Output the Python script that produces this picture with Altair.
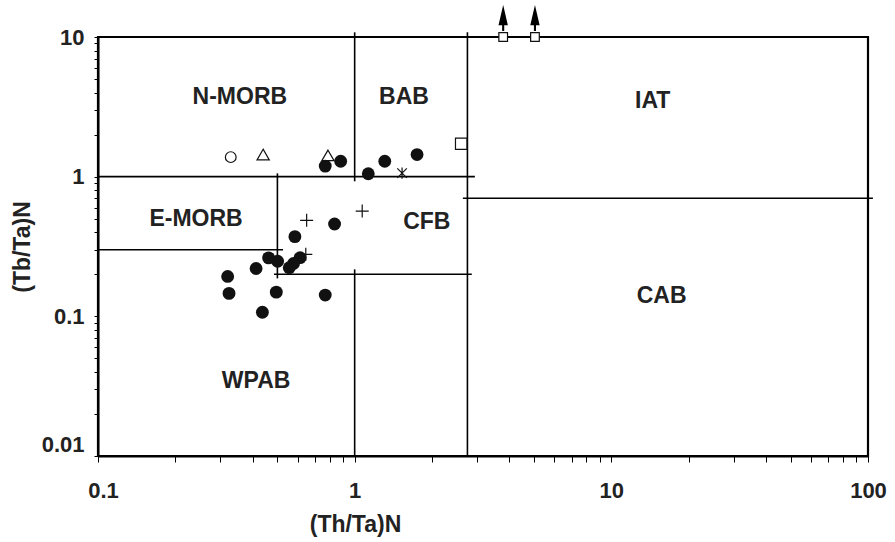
import altair as alt
import pandas as pd

# --- field boundary segments (Th/Ta)N vs (Tb/Ta)N ---
seg_x1 = [0.1, 1.0, 2.75, 2.64, 0.5, 0.1, 0.485, 1.0]
seg_x2 = [2.94, 1.0, 2.75, 104.5, 0.5, 0.526, 2.86, 1.0]
seg_y1 = [1.0, 10.8, 10.8, 0.70, 1.056, 0.30, 0.20, 0.217]
seg_y2 = [1.0, 0.926, 0.01, 0.70, 0.187, 0.30, 0.20, 0.01]

# --- samples ---
filled_x = [0.768, 0.882, 1.13, 1.31, 1.75, 0.835, 0.585, 0.462, 0.501, 0.613,
            0.578, 0.556, 0.413, 0.32, 0.324, 0.495, 0.768, 0.437]
filled_y = [1.19, 1.29, 1.05, 1.29, 1.44, 0.458, 0.372, 0.262, 0.248, 0.263,
            0.239, 0.223, 0.220, 0.193, 0.146, 0.149, 0.142, 0.107]
circle_x = [0.329]
circle_y = [1.38]
tri_x = [0.44, 0.787]
tri_y = [1.44, 1.42]
plus_x = [0.65, 1.07, 0.645]
plus_y = [0.487, 0.567, 0.278]
star_x = [1.53]
star_y = [1.06]
square_x = [2.6]
square_y = [1.72]
# values beyond the top of the diagram, plotted on the upper limit
offscale_x = [3.79, 5.04]
offscale_y = [10.0, 10.0]

# --- field names ---
field_names = ["N-MORB", "BAB", "IAT", "E-MORB", "CFB", "CAB", "WPAB"]
field_x = [0.357, 1.556, 14.5, 0.241, 1.91, 15.7, 0.413]
field_y = [3.71, 3.71, 3.46, 0.495, 0.473, 0.139, 0.0343]

# --- axes ---
x_decades = [0.1, 1, 10, 100]
x_labels = ["0.1", "1", "10", "100"]
y_decades = [0.01, 0.1, 1, 10]
y_labels = ["0.01", "0.1", "1", "10"]

FONT = "Liberation Sans"

x_ticks = list(x_decades) + [k * d for d in x_decades[:-1] for k in range(2, 10)]
y_ticks = list(y_decades) + [k * d for d in y_decades[:-1] for k in range(2, 10)]


def label_expr(values, labels):
    expr = "''"
    for v, lab in reversed(list(zip(values, labels))):
        expr = f"datum.value == {v} ? '{lab}' : ({expr})"
    return expr


xscale = alt.Scale(type="log", domain=[0.1, 100], nice=False, zero=False)
yscale = alt.Scale(type="log", domain=[0.01, 10], nice=False, zero=False)

xaxis = alt.Axis(
    values=x_ticks, labelExpr=label_expr(x_decades, x_labels),
    title="(Th/Ta)N", grid=False, domainColor="black", domainWidth=2,
    tickColor="black", tickSize=6, tickWidth=1, labelFont=FONT,
    labelFontSize=22, labelFontWeight="bold", labelColor="#222",
    labelPadding=18, labelOverlap=False, labelFlush=False,
    labelOffset={"condition": {"test": "datum.value == 0.1", "value": 5}, "value": 0},
    titleFont=FONT, titleFontSize=23, titleFontWeight="bold", titleColor="#222",
    titleX=257, titleY=68, titleBaseline="middle", titleAlign="center",
)
yaxis = alt.Axis(
    values=y_ticks, labelExpr=label_expr(y_decades, y_labels),
    title="(Tb/Ta)N", grid=False, domainColor="black", domainWidth=2,
    tickColor="black", tickSize=4, tickWidth=1, labelFont=FONT,
    labelFontSize=22, labelFontWeight="bold", labelColor="#222",
    labelPadding=10, labelOverlap=False, labelFlush=False,
    labelOffset={"condition": {"test": "datum.value == 0.01", "value": -12}, "value": 0},
    titleFont=FONT, titleFontSize=23, titleFontWeight="bold", titleColor="#222",
    titleX=-76, titleY=209.5, titleAngle=-90, titleBaseline="middle",
    titleAlign="center",
)

segs = pd.DataFrame({"x": seg_x1, "x2": seg_x2, "y": seg_y1, "y2": seg_y2})
rules = alt.Chart(segs).mark_rule(color="black", strokeWidth=1.6).encode(
    x=alt.X("x:Q", scale=xscale, axis=xaxis),
    x2="x2:Q",
    y=alt.Y("y:Q", scale=yscale, axis=yaxis),
    y2="y2:Q",
)


def pts(xs, ys, **kw):
    df = pd.DataFrame({"x": xs, "y": ys})
    return alt.Chart(df).mark_point(**kw).encode(
        x=alt.X("x:Q", scale=xscale), y=alt.Y("y:Q", scale=yscale)
    )


PLUS = "M-1,0L1,0M0,-1L0,1"
STAR = "M-1,-1L1,1M-1,1L1,-1M0,-1.2L0,1.2"
ARROW = "M0,-1L0.36,0.55L0.08,0.55L0.08,1L-0.08,1L-0.08,0.55L-0.36,0.55Z"

layers = [
    rules,
    pts(filled_x, filled_y, shape="circle", filled=True, color="#111", size=165, opacity=1),
    pts(circle_x, circle_y, shape="circle", filled=False, color="#111", size=115,
        strokeWidth=1.2, opacity=1),
    pts(tri_x, tri_y, shape="triangle-up", filled=False, color="#111", size=150,
        strokeWidth=1.2, opacity=1),
    pts(plus_x, plus_y, shape=PLUS, filled=False, color="#111", size=170,
        strokeWidth=1.2, opacity=1),
    pts(star_x, star_y, shape=STAR, filled=False, color="#111", size=90,
        strokeWidth=1.2, opacity=1),
    pts(square_x, square_y, shape="square", filled=True, fill="white", stroke="#111",
        size=130, strokeWidth=1.2, opacity=1),
    pts(offscale_x, offscale_y, shape=ARROW, filled=True, color="black", size=676,
        yOffset=-19, opacity=1),
    pts(offscale_x, offscale_y, shape="square", filled=True, fill="white", stroke="#111",
        size=75, strokeWidth=1.2, opacity=1),
]

labels_df = pd.DataFrame({"name": field_names, "x": field_x, "y": field_y})
labels = alt.Chart(labels_df).mark_text(
    font=FONT, fontSize=23, fontWeight="bold", color="#222",
    align="center", baseline="middle",
).encode(
    x=alt.X("x:Q", scale=xscale), y=alt.Y("y:Q", scale=yscale), text="name:N"
)
layers.append(labels)

chart = alt.layer(*layers).properties(
    width=770, height=419,
    autosize=alt.AutoSizeParams(type="none"),
    padding={"left": 98, "top": 37, "right": 27, "bottom": 86},
    background="white",
).configure_view(stroke="black", strokeWidth=2.2)

chart.save("out.html", embed_options={"renderer": "svg", "actions": False})
